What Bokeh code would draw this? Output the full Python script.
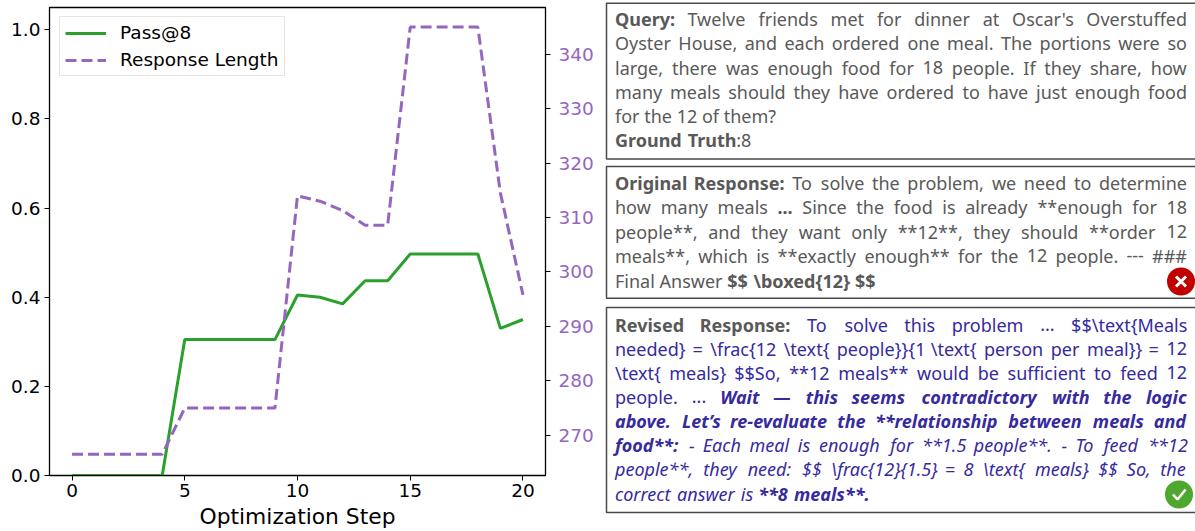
from bokeh.embed import file_html
from bokeh.resources import INLINE
from bokeh.layouts import row
from bokeh.models import ColumnDataSource, FixedTicker, LinearAxis, NumeralTickFormatter, Range1d
from bokeh.plotting import figure
from bokeh.core.properties import value

steps = list(range(21))
pass_at_8 = [0, 0, 0, 0, 0, 0.305, 0.305, 0.305, 0.305, 0.305, 0.405, 0.40, 0.385, 0.437, 0.437,
             0.497, 0.497, 0.497, 0.497, 0.33, 0.35]
response_length = [266.5, 266.5, 266.5, 266.5, 266.5, 275, 275, 275, 275, 275, 314, 313, 311.3,
                   308.6, 308.6, 345, 345, 345, 345, 314.5, 295.8]
left_ticks = [0, 0.2, 0.4, 0.6, 0.8, 1.0]
right_ticks = [270, 280, 290, 300, 310, 320, 330, 340]
x_ticks = [0, 5, 10, 15, 20]

GRAY = "#595959"
BLUE = "#352a9e"
STYLE = {"b": ("bold", GRAY, 1.05), "r": ("normal", GRAY, 1.0), "R": ("normal", BLUE, 1.0),
         "I": ("italic", BLUE, 0.96), "B": ("bold italic", BLUE, 1.03)}

# (line centre, justified, segments)
text_lines = [
    (18.5, True, [("b", "Query:"), ("r", " Twelve friends met for dinner at Oscar's Overstuffed")]),
    (42.5, True, [("r", "Oyster House, and each ordered one meal. The portions were so")]),
    (67, True, [("r", "large, there was enough food for 18 people. If they share, how")]),
    (91.5, True, [("r", "many meals should they have ordered to have just enough food")]),
    (115.5, False, [("r", "for the 12 of them?")]),
    (139.5, False, [("b", "Ground Truth"), ("r", ":8")]),
    (182.5, True, [("b", "Original Response:"), ("r", " To solve the problem, we need to determine")]),
    (206.5, True, [("r", "how many meals"), ("b", " ..."), ("r", " Since the food is already **enough for 18")]),
    (231, True, [("r", "people**, and they want only **12**, they should **order 12")]),
    (255, True, [("r", "meals**, which is **exactly enough** for the 12 people.  ---  ###")]),
    (280, False, [("r", "Final Answer"), ("b", " $$ \\boxed{12} $$")]),
    (324, True, [("b", "Revised Response:"), ("R", " To solve this problem ... $$\\text{Meals")]),
    (348, True, [("R", "needed} = \\frac{12 \\text{ people}}{1 \\text{ person per meal}} = 12")]),
    (372, True, [("R", "\\text{ meals} $$So, **12 meals** would be sufficient to feed 12")]),
    (396, True, [("R", "people. ..."), ("B", " Wait \u2014 this seems contradictory with the logic")]),
    (420.5, True, [("B", "above. Let\u2019s re-evaluate the **relationship between meals and")]),
    (444.5, True, [("B", "food**:"), ("I", " - Each meal is enough for **1.5 people**. - To feed **12")]),
    (468.5, True, [("I", "people**, they need: $$ \\frac{12}{1.5} = 8 \\text{ meals} $$ So, the")]),
    (493, False, [("I", "correct answer is"), ("B", " **8 meals**.")]),
]

FONT = "Noto Sans"
SIZE = 18
WIDE = {"a": .561, "b": .615, "c": .48, "d": .615, "e": .564, "f": .344, "g": .615, "h": .618, "i": .258,
        "j": .258, "k": .534, "l": .258, "m": .935, "n": .618, "o": .605, "p": .615, "q": .615, "r": .413,
        "s": .479, "t": .361, "u": .618, "v": .508, "w": .786, "x": .529, "y": .51, "z": .47,
        "A": .639, "B": .65, "C": .632, "D": .73, "E": .556, "F": .519, "G": .728, "H": .741, "I": .339,
        "J": .273, "K": .619, "L": .524, "M": .907, "N": .76, "O": .781, "P": .605, "Q": .781, "R": .622,
        "S": .549, "T": .556, "U": .731, "V": .6, "W": .93, "X": .586, "Y": .566, "Z": .572,
        ".": .268, ",": .268, ":": .268, ";": .268, "'": .221, "\u2019": .185, "?": .434, "-": .322,
        "*": .551, "$": .572, "\\": .372, "{": .339, "}": .339, "=": .572, "#": .646, "\u2014": 1.0}


def word_width(word, factor):
    return sum(WIDE.get(c, .572) for c in word) * SIZE * factor


LEFT, RIGHT = 14.5, 586.5
SPACE = 0.26 * SIZE
xs, ys, words, fonts, colors = [], [], [], [], []
for y, justified, segments in text_lines:
    pieces = []
    for code, seg in segments:
        glue = not seg.startswith(" ")
        for i, word in enumerate(seg.split()):
            pieces.append((word, code, glue and i == 0 and bool(pieces)))
    total = sum(word_width(w, STYLE[c][2]) for w, c, _ in pieces)
    gaps = sum(1 for w, c, g in pieces[1:] if not g)
    gap = (RIGHT - LEFT - total) / gaps if justified else SPACE
    x = LEFT
    for k, (word, code, glued) in enumerate(pieces):
        if k and not glued:
            x += gap
        xs.append(x)
        ys.append(y)
        words.append(word)
        fonts.append(STYLE[code][0])
        colors.append(STYLE[code][1])
        x += word_width(word, STYLE[code][2])

# ---- chart ----
p = figure(width=600, height=531, output_backend="svg", toolbar_location=None,
           x_range=Range1d(-1, 21), y_range=Range1d(0, 1.05), frame_align=False,
           min_border_left=49, min_border_right=55, min_border_top=7, min_border_bottom=56)
p.extra_y_ranges = {"len": Range1d(262.6, 348.6)}
p.grid.visible = False
p.outline_line_color = "black"
p.outline_line_width = 1.3

p.line(steps, pass_at_8, line_color="#2ca02c", line_width=3, legend_label="Pass@8")
p.line(steps, response_length, y_range_name="len", line_color="#9467bd", line_width=3,
       line_dash="11 5", legend_label="Response Length")

right = LinearAxis(y_range_name="len", ticker=FixedTicker(ticks=right_ticks))
p.add_layout(right, "right")
right.major_label_text_color = "#9467bd"

p.xaxis.ticker = FixedTicker(ticks=x_ticks)
p.yaxis[0].ticker = FixedTicker(ticks=left_ticks)
p.yaxis[0].formatter = NumeralTickFormatter(format="0.0")
p.xaxis.axis_label = "Optimization Step"
p.xaxis.axis_label_text_font = "DejaVu Sans"
p.xaxis.axis_label_text_font_size = "21.8px"
p.xaxis.axis_label_text_font_style = "normal"
p.xaxis.axis_label_text_color = "black"
p.xaxis.axis_label_text_line_height = 1.0
p.xaxis.axis_label_standoff = 4
for ax in [p.xaxis[0], p.yaxis[0], right]:
    ax.major_label_text_font = "DejaVu Sans"
    ax.major_label_text_font_size = "18.5px"
    ax.minor_tick_line_color = None
    ax.major_tick_in = 0
    ax.major_tick_out = 5
    ax.major_tick_line_color = "black"
    ax.axis_line_color = "black"
    ax.major_label_standoff = 4
right.major_label_standoff = 8
p.xaxis[0].major_label_standoff = 3
p.yaxis[0].major_label_text_color = "black"
p.xaxis[0].major_label_text_color = "black"

lg = p.legend[0]
lg.location = (10, 399)
lg.label_text_font = "DejaVu Sans"
lg.label_text_font_size = "18.5px"
lg.label_text_color = "black"
lg.glyph_width = 41
lg.label_standoff = 14
lg.padding = 5
lg.spacing = 6
lg.margin = 0
lg.border_line_color = "#cccccc"
lg.border_line_width = 1
lg.background_fill_alpha = 0.8

# ---- text panels ----
q = figure(width=595, height=531, output_backend="svg", toolbar_location=None,
           x_range=Range1d(0, 595), y_range=Range1d(531, 0), frame_align=False,
           min_border=0, min_border_left=0, min_border_right=0, min_border_top=0, min_border_bottom=0)
q.axis.visible = False
q.grid.visible = False
q.outline_line_color = None

q.quad(left=[6, 6, 6], right=[600, 600, 600], top=[2.8, 166, 307], bottom=[158.5, 297.7, 512],
       fill_color=None, line_color="#4a4a4a", line_width=1.5)

src = ColumnDataSource(dict(x=xs, y=ys, text=words, font_style=fonts, color=colors))
q.text("x", "y", text="text", source=src, text_font=value(FONT), text_font_size=value(f"{SIZE}px"),
       text_font_style="font_style", text_color="color", text_baseline="middle", text_align="left")

q.scatter([580.5], [281], size=28, marker="circle", fill_color="#c00000", line_color=None)
q.multi_line([[575.5, 585.5], [575.5, 585.5]], [[276, 286], [286, 276]], line_color="white", line_width=3)
q.scatter([578.5], [494], size=28, marker="circle", fill_color="#4ea72e", line_color=None)
q.line([572.5, 577, 585], [494, 499, 489], line_color="white", line_width=2.5)

html = file_html(row(p, q), INLINE)
html = html.replace("<head>", "<head><style>html,body{margin:0;padding:0}</style>", 1)
open("out.html", "w").write(html)
